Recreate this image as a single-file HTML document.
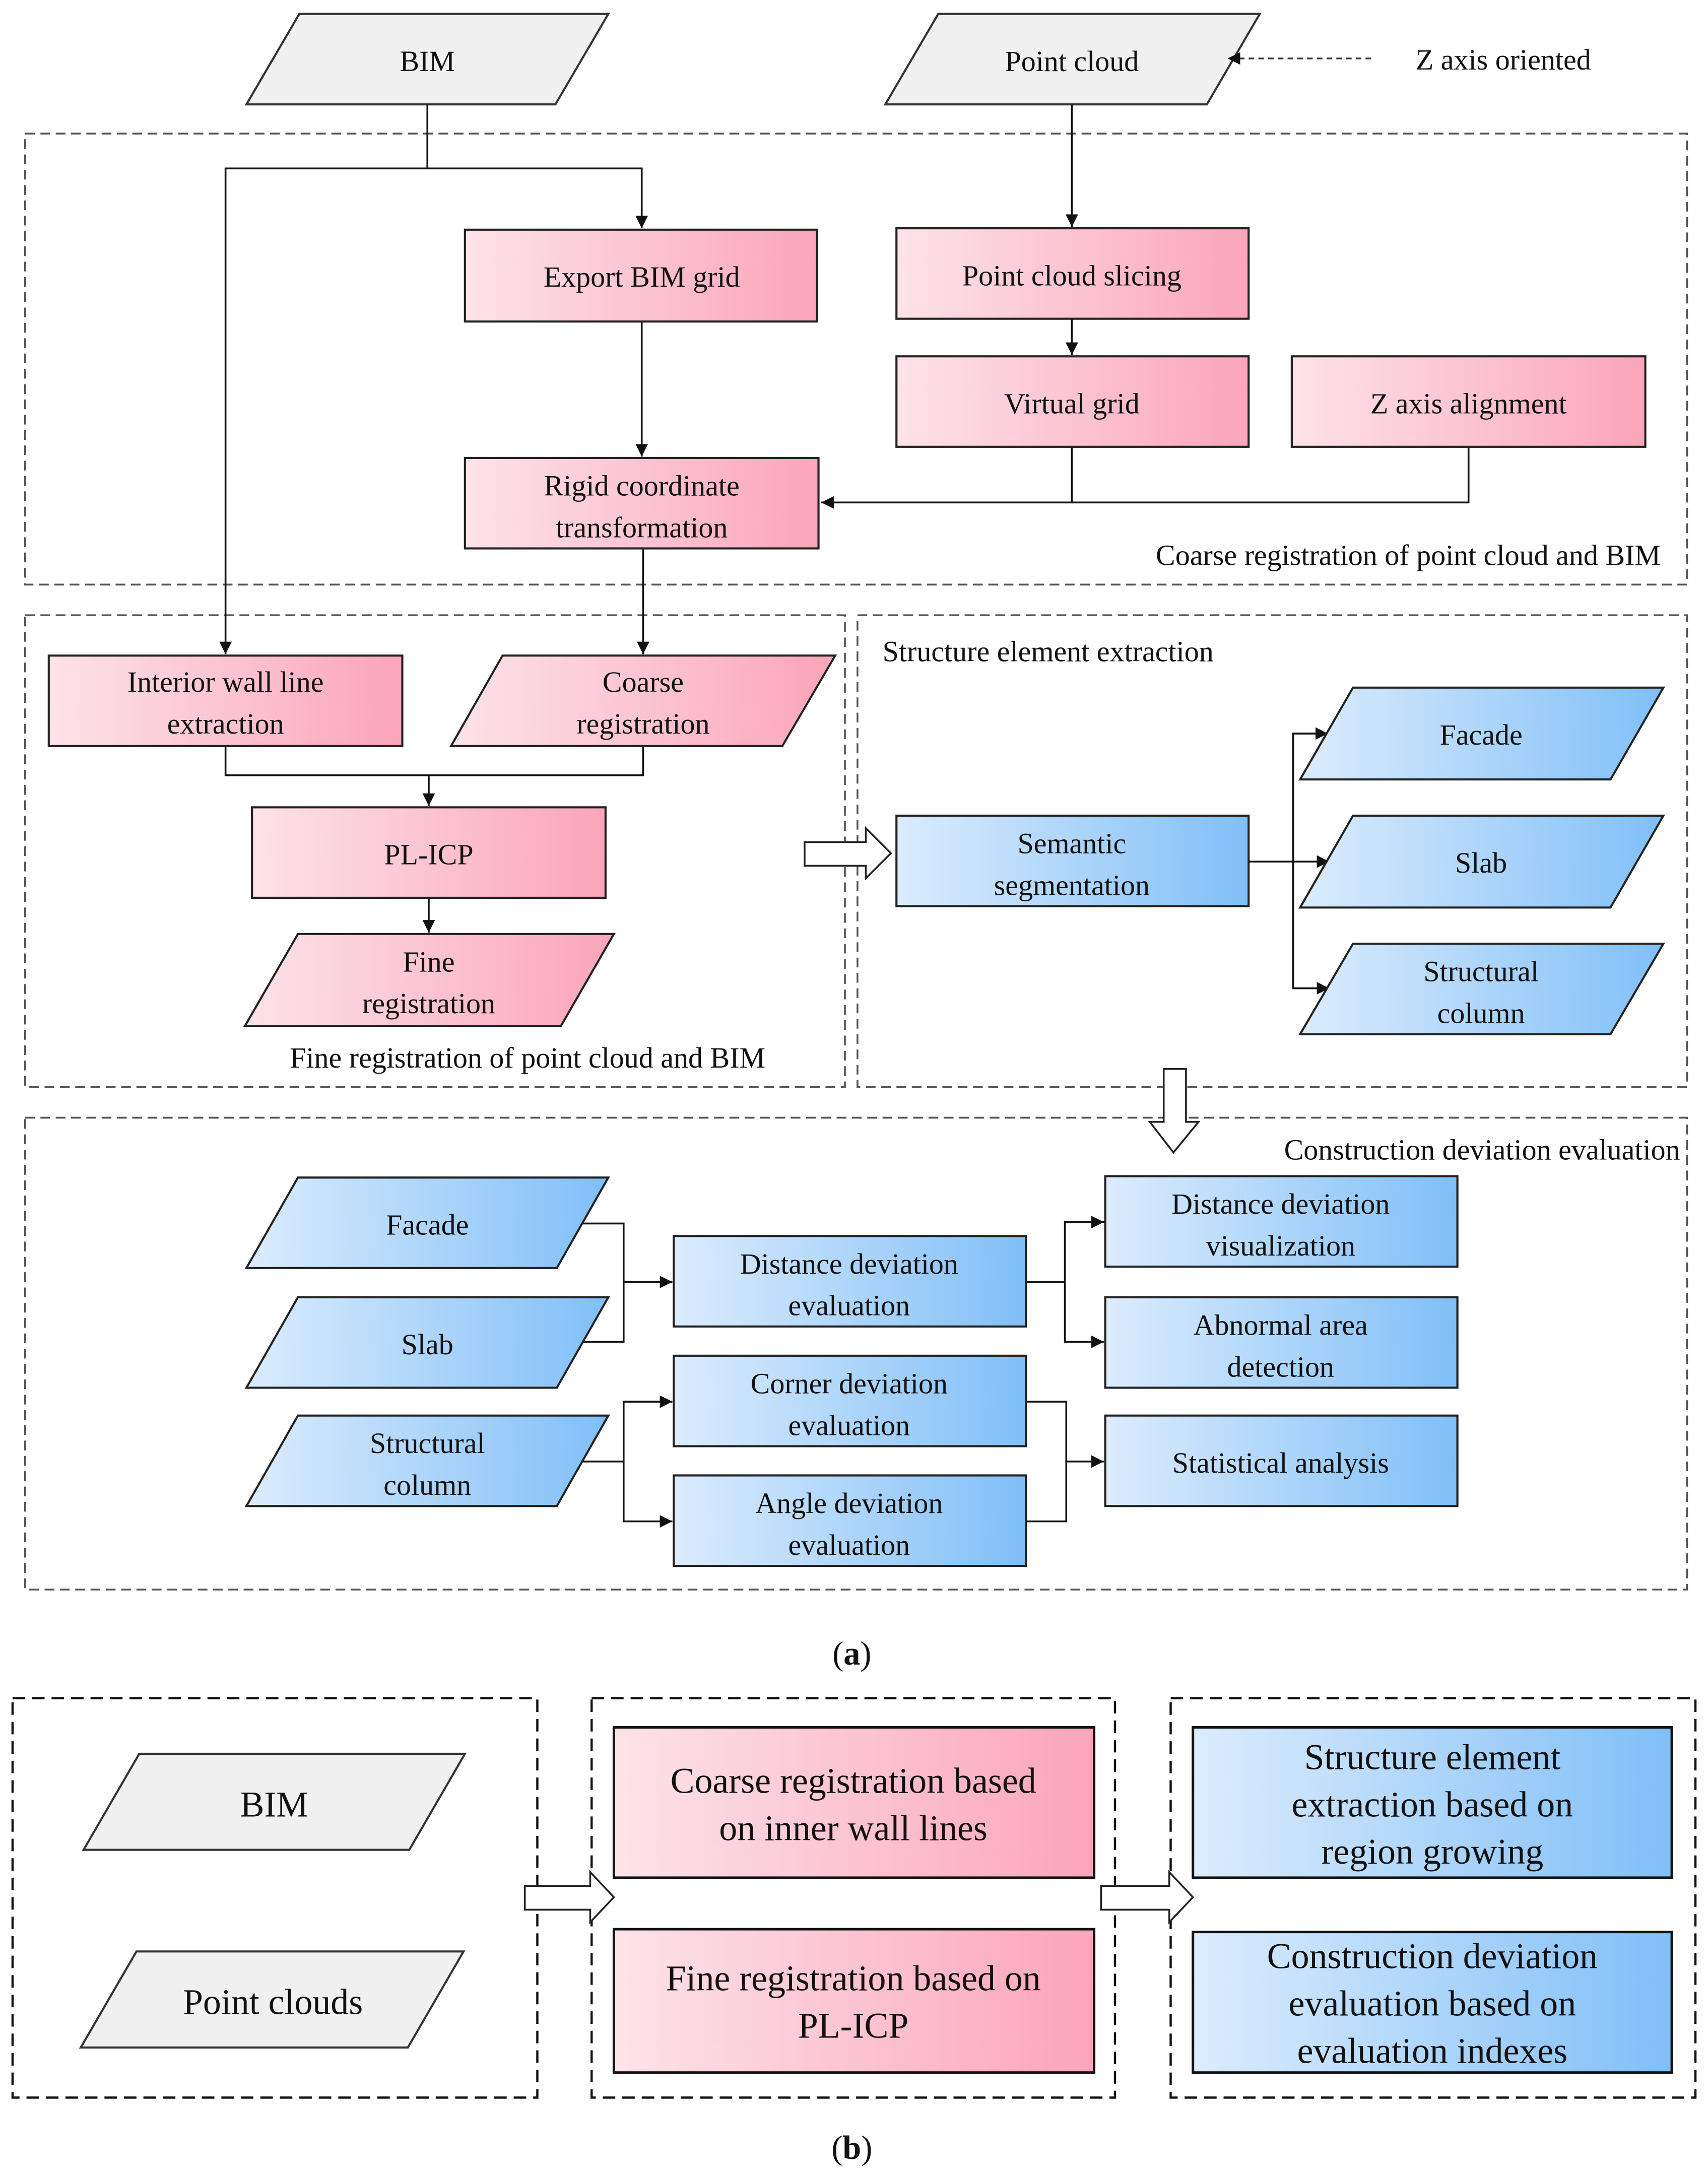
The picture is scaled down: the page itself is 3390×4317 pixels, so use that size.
<!DOCTYPE html>
<html><head><meta charset="utf-8"><style>
html,body{margin:0;padding:0;background:#fff;}
svg{display:block;}
text{font-family:"Liberation Serif","Times New Roman",serif;fill:#111;}
</style></head><body>
<svg width="3390" height="4317" viewBox="0 0 1227 1562.6" xmlns="http://www.w3.org/2000/svg">
<defs>
<linearGradient id="pk" x1="0" x2="1" y1="0" y2="0"><stop offset="0" stop-color="#fde3e9"/><stop offset="1" stop-color="#fba5ba"/></linearGradient>
<linearGradient id="bl" x1="0" x2="1" y1="0" y2="0"><stop offset="0" stop-color="#dcecfd"/><stop offset="1" stop-color="#80bff7"/></linearGradient>
<marker id="ar" viewBox="0 0 10 10" refX="10" refY="5" markerWidth="9" markerHeight="9" markerUnits="userSpaceOnUse" orient="auto"><path d="M0,0 L10,5 L0,10 z" fill="#111"/></marker>
</defs>
<g font-size="21" text-anchor="middle">
<g fill="none" stroke="#555" stroke-width="1.3" stroke-dasharray="7,4">
<rect x="18" y="96" width="1194" height="324"/>
<rect x="18" y="442" width="589" height="339"/>
<rect x="616" y="442" width="596" height="339"/>
<rect x="18" y="803" width="1194" height="339"/>
</g>
<polygon points="215,10 437,10 399,75 177,75" fill="#f0f0f0" stroke="#333" stroke-width="1.5"/>
<text x="307" y="51">BIM</text>
<polygon points="674,10 905,10 867,75 636,75" fill="#f0f0f0" stroke="#333" stroke-width="1.5"/>
<text x="770" y="51">Point cloud</text>
<line x1="985" y1="42" x2="882" y2="42" stroke="#333" stroke-width="1.2" stroke-dasharray="4,3" marker-end="url(#ar)"/>
<text x="1080" y="50">Z axis oriented</text>
<g stroke="#111" stroke-width="1.3" fill="none">
<path d="M307,75 V121 H461 V164" marker-end="url(#ar)"/>
<path d="M307,121 H162 V470" marker-end="url(#ar)"/>
<path d="M461,231 V328" marker-end="url(#ar)"/>
<path d="M770,75 V163" marker-end="url(#ar)"/>
<path d="M770,229 V255" marker-end="url(#ar)"/>
<path d="M770,321 V361 H590" marker-end="url(#ar)"/>
<path d="M1055,321 V361 H770"/>
<path d="M462,394 V470" marker-end="url(#ar)"/>
<path d="M162,536 V557 H462 V536"/>
<path d="M308,557 V579" marker-end="url(#ar)"/>
<path d="M308,645 V670" marker-end="url(#ar)"/>
<path d="M897,619 H955" marker-end="url(#ar)"/>
<path d="M955,527 H929 V710 H955" marker-end="url(#ar)"/>
<path d="M929,527 H954" marker-end="url(#ar)"/>
<path d="M418,879 H448 V964 H418"/>
<path d="M448,921 H483" marker-end="url(#ar)"/>
<path d="M737,921 H765"/>
<path d="M794,878 H765 V964 H793" marker-end="url(#ar)"/>
<path d="M765,878 H793" marker-end="url(#ar)"/>
<path d="M418,1050 H448"/>
<path d="M483,1007 H448 V1093 H483" marker-end="url(#ar)"/>
<path d="M448,1007 H483" marker-end="url(#ar)"/>
<path d="M737,1007 H766 V1093 H737"/>
<path d="M766,1050 H793" marker-end="url(#ar)"/>
</g>
<g stroke="#222" stroke-width="1.5" fill="url(#pk)">
<rect x="334" y="165" width="253" height="66"/>
<rect x="644" y="164" width="253" height="65"/>
<rect x="644" y="256" width="253" height="65"/>
<rect x="928" y="256" width="254" height="65"/>
<rect x="334" y="329" width="254" height="65"/>
<rect x="35" y="471" width="254" height="65"/>
<polygon points="361,471 600,471 562,536 324,536"/>
<rect x="181" y="580" width="254" height="65"/>
<polygon points="214,671 441,671 403,737 176,737"/>
</g>
<text x="461" y="206">Export BIM grid</text>
<text x="770" y="205">Point cloud slicing</text>
<text x="770" y="297">Virtual grid</text>
<text x="1055" y="297">Z axis alignment</text>
<text x="461" y="356">Rigid coordinate</text>
<text x="461" y="386">transformation</text>
<text x="162" y="497">Interior wall line</text>
<text x="162" y="527">extraction</text>
<text x="462" y="497">Coarse</text>
<text x="462" y="527">registration</text>
<text x="308" y="621">PL-ICP</text>
<text x="308" y="698">Fine</text>
<text x="308" y="728">registration</text>
<text x="1193" y="406" text-anchor="end">Coarse registration of point cloud and BIM</text>
<text x="379" y="767">Fine registration of point cloud and BIM</text>
<text x="634" y="475" text-anchor="start">Structure element extraction</text>
<text x="1207" y="833" text-anchor="end">Construction deviation evaluation</text>
<g stroke="#222" stroke-width="1.5" fill="url(#bl)">
<rect x="644" y="586" width="253" height="65"/>
<polygon points="972,494 1195,494 1157,560 934,560"/>
<polygon points="972,586 1195,586 1157,652 934,652"/>
<polygon points="972,678 1195,678 1157,743 934,743"/>
<polygon points="214,846 437,846 400,911 177,911"/>
<polygon points="214,932 437,932 400,997 177,997"/>
<polygon points="214,1017 437,1017 400,1082 177,1082"/>
<rect x="484" y="888" width="253" height="65"/>
<rect x="484" y="974" width="253" height="65"/>
<rect x="484" y="1060" width="253" height="65"/>
<rect x="794" y="845" width="253" height="65"/>
<rect x="794" y="932" width="253" height="65"/>
<rect x="794" y="1017" width="253" height="65"/>
</g>
<text x="770" y="613">Semantic</text>
<text x="770" y="643">segmentation</text>
<text x="1064" y="535">Facade</text>
<text x="1064" y="627">Slab</text>
<text x="1064" y="705">Structural</text>
<text x="1064" y="735">column</text>
<text x="307" y="887">Facade</text>
<text x="307" y="973">Slab</text>
<text x="307" y="1044">Structural</text>
<text x="307" y="1074">column</text>
<text x="610" y="915">Distance deviation</text>
<text x="610" y="945">evaluation</text>
<text x="610" y="1001">Corner deviation</text>
<text x="610" y="1031">evaluation</text>
<text x="610" y="1087">Angle deviation</text>
<text x="610" y="1117">evaluation</text>
<text x="920" y="872">Distance deviation</text>
<text x="920" y="902">visualization</text>
<text x="920" y="959">Abnormal area</text>
<text x="920" y="989">detection</text>
<text x="920" y="1058">Statistical analysis</text>
<g fill="#fff" stroke="#222" stroke-width="1.3">
<polygon points="578,605 622,605 622,595 640,613 622,631 622,622 578,622"/>
<polygon points="836,768 852,768 852,806 861,806 843,828 826,806 836,806"/>
</g>
<text x="612" y="1196" font-size="24">(<tspan font-weight="bold">a</tspan>)</text>
<g fill="none" stroke="#111" stroke-width="1.6" stroke-dasharray="9,5">
<rect x="9" y="1220" width="377" height="287"/>
<rect x="425" y="1220" width="376" height="287"/>
<rect x="841" y="1220" width="377" height="287"/>
</g>
<polygon points="100,1260 334,1260 294,1329 60,1329" fill="#f0f0f0" stroke="#333" stroke-width="1.5"/>
<polygon points="98,1402 333,1402 293,1471 58,1471" fill="#f0f0f0" stroke="#333" stroke-width="1.5"/>
<g stroke="#111" stroke-width="1.8">
<rect x="441" y="1241" width="345" height="108" fill="url(#pk)"/>
<rect x="441" y="1386" width="345" height="103" fill="url(#pk)"/>
<rect x="857" y="1241" width="344" height="108" fill="url(#bl)"/>
<rect x="857" y="1388" width="344" height="101" fill="url(#bl)"/>
</g>
<g fill="#fff" stroke="#222" stroke-width="1.3">
<polygon points="377,1355 424,1355 424,1345 441,1363 424,1381 424,1372 377,1372"/>
<polygon points="791,1355 840,1355 840,1345 857,1363 840,1381 840,1372 791,1372"/>
</g>
<g font-size="26">
<text x="197" y="1305">BIM</text>
<text x="196" y="1447">Point clouds</text>
<text x="613" y="1288">Coarse registration based</text>
<text x="613" y="1322">on inner wall lines</text>
<text x="613" y="1430">Fine registration based on</text>
<text x="613" y="1464">PL-ICP</text>
<text x="1029" y="1271">Structure element</text>
<text x="1029" y="1305">extraction based on</text>
<text x="1029" y="1339">region growing</text>
<text x="1029" y="1414">Construction deviation</text>
<text x="1029" y="1448">evaluation based on</text>
<text x="1029" y="1482">evaluation indexes</text>
</g>
<text x="612" y="1551" font-size="24">(<tspan font-weight="bold">b</tspan>)</text>
</g>
</svg>
</body></html>
